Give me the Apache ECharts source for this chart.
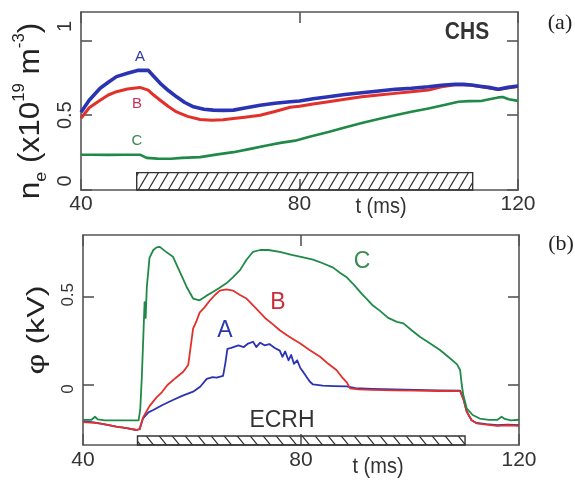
<!DOCTYPE html>
<html>
<head>
<meta charset="utf-8">
<script src="https://cdn.jsdelivr.net/npm/echarts@6/dist/echarts.min.js"></script>
<style>
html,body{margin:0;padding:0;background:#fff;}
#chart{width:575px;height:486px;}
</style>
</head>
<body>
<div id="chart"></div>
<script>
// (a) electron density n_e, 1e19 m^-3, versus t (ms)
const neA = [[40,0.52],[41.5,0.60],[43.5,0.68],[45,0.72],[46.5,0.758],[48.5,0.78],[50.5,0.80],[52.3,0.80],[53.3,0.76],[54.5,0.713],[56,0.665],[57.5,0.623],[59,0.585],[60.6,0.556],[62.5,0.54],[64.2,0.534],[66,0.532],[67.9,0.534],[70,0.548],[72.8,0.567],[75.5,0.58],[78.3,0.59],[80,0.595],[82.5,0.61],[85.3,0.623],[88.3,0.638],[91.4,0.65],[94.5,0.662],[97.5,0.673],[100.5,0.68],[103.6,0.69],[106,0.70],[108.5,0.707],[110,0.706],[111.5,0.702],[113,0.694],[114.6,0.686],[116.4,0.673],[118.2,0.686],[120,0.695]];
const neB = [[40,0.48],[41.5,0.55],[43.5,0.60],[45,0.635],[46.5,0.657],[48.5,0.675],[50.8,0.686],[52.3,0.668],[53.3,0.635],[54.5,0.60],[56,0.558],[57.5,0.522],[59.5,0.492],[61.8,0.471],[64,0.466],[66,0.47],[67.9,0.478],[70,0.487],[72.8,0.50],[75.5,0.525],[78.3,0.553],[80,0.56],[82.5,0.575],[85.3,0.59],[88.3,0.607],[91.4,0.623],[94.5,0.635],[97.5,0.646],[100.5,0.657],[103.6,0.668],[106,0.69],[108.5,0.703],[110,0.704],[111.5,0.70],[113,0.692],[114.6,0.684],[116.4,0.672],[118.2,0.684],[120,0.692]];
const neC = [[40,0.236],[42,0.236],[45,0.235],[48,0.236],[50.8,0.236],[52,0.215],[54,0.21],[56.5,0.209],[58.5,0.215],[61.8,0.22],[65,0.238],[67.9,0.253],[71,0.275],[74,0.298],[76.5,0.315],[79.2,0.33],[82,0.358],[85.3,0.388],[88.3,0.418],[91.4,0.448],[94.5,0.475],[97.5,0.50],[100.5,0.523],[103.6,0.545],[106.5,0.568],[109.1,0.59],[111,0.594],[113.4,0.596],[115,0.608],[116.4,0.619],[117.2,0.622],[118.3,0.607],[120,0.596]];

// (b) plasma potential phi, kV, versus t (ms)
const phiA = [[40,-0.205],[42,-0.212],[43,-0.217],[44.5,-0.226],[46.1,-0.236],[48,-0.245],[49.8,-0.255],[50.4,-0.25],[51,-0.19],[52,-0.155],[52.9,-0.142],[54.5,-0.115],[56.5,-0.085],[58.3,-0.06],[60.2,-0.038],[61.5,-0.01],[62.7,0.035],[63.8,0.045],[64.5,0.042],[65.7,0.052],[66.1,0.12],[66.5,0.205],[67.2,0.21],[68.5,0.224],[69.5,0.215],[70.3,0.235],[71.2,0.245],[71.8,0.215],[72.5,0.24],[73.3,0.225],[74.2,0.232],[75.2,0.21],[76.1,0.195],[76.6,0.16],[77.1,0.19],[77.7,0.14],[78.2,0.17],[78.7,0.12],[79.3,0.14],[79.9,0.095],[80.5,0.07],[81,0.047],[81.6,0.02],[82.2,0.003],[84,-0.003],[86,-0.006],[88.4,-0.008],[90,-0.018],[93,-0.022],[97,-0.025],[101,-0.028],[105,-0.03],[109.2,-0.032],[109.8,-0.08],[110.4,-0.15],[111.3,-0.2],[112.2,-0.215],[114,-0.222],[116,-0.228],[118,-0.225],[120,-0.228]];
const phiB = [[40,-0.21],[42,-0.215],[43,-0.217],[44.5,-0.226],[46.1,-0.236],[48,-0.245],[49.8,-0.255],[50.4,-0.25],[51,-0.185],[52.2,-0.12],[53.5,-0.07],[54.5,-0.04],[55.5,0.0],[57,0.04],[58.4,0.075],[59.3,0.113],[59.6,0.18],[60.2,0.32],[60.8,0.36],[61.4,0.41],[62.3,0.44],[63.3,0.48],[64.2,0.51],[65.1,0.535],[66.3,0.542],[67.5,0.535],[68.8,0.51],[70,0.49],[71.7,0.435],[73.4,0.38],[74.8,0.345],[76.1,0.31],[77.5,0.28],[78.8,0.255],[79.8,0.236],[81.5,0.2],[83.5,0.16],[85,0.12],[86.5,0.085],[87.5,0.045],[88.4,0.015],[89,-0.019],[90.5,-0.025],[93,-0.028],[97,-0.03],[101,-0.032],[105,-0.034],[109.2,-0.035],[109.8,-0.08],[110.4,-0.151],[111.3,-0.2],[112.2,-0.217],[114,-0.225],[116,-0.232],[118,-0.228],[120,-0.232]];
const phiC = [[40,-0.198],[41.5,-0.198],[42.2,-0.18],[42.7,-0.195],[44,-0.2],[46,-0.2],[48,-0.2],[50.2,-0.2],[50.5,-0.14],[50.8,0.05],[51.1,0.3],[51.3,0.47],[51.5,0.38],[51.7,0.55],[52.2,0.72],[52.9,0.765],[53.5,0.78],[54.1,0.783],[55,0.76],[56.5,0.727],[57.5,0.66],[59,0.557],[60.2,0.49],[61.4,0.48],[62.6,0.505],[63.9,0.528],[65,0.55],[66.3,0.576],[67.5,0.61],[68.8,0.651],[70,0.71],[71.2,0.755],[72.5,0.765],[74,0.765],[76.1,0.755],[78.3,0.738],[80.2,0.725],[82.2,0.71],[84,0.69],[85.9,0.665],[87.2,0.635],[88.4,0.61],[89.5,0.575],[90.2,0.55],[91.2,0.515],[92,0.49],[93.2,0.45],[94.5,0.42],[96,0.38],[97.6,0.358],[98.8,0.349],[100.3,0.31],[101.8,0.273],[103.5,0.24],[105.5,0.198],[107,0.16],[108.6,0.118],[109.2,0.085],[109.5,0.0],[109.8,-0.06],[110.4,-0.132],[111.5,-0.17],[112.8,-0.19],[114.5,-0.198],[116,-0.198],[116.8,-0.18],[117.4,-0.192],[118.5,-0.2],[120,-0.197]];

// ECRH heating window (ms) and the vertical extent of its hatched bar
const ecrhSpanA = [50.2, 111.7];
const ecrhSpanB = [50.0, 110.1];
const ecrhBarA = [0, 0.116];
const ecrhBarB = [-0.34, -0.289];

// axis ranges and tick values
const tRange = [40, 120];
const tTicks = [40, 80, 120];
const neRange = [0, 1.19];
const neTicks = [0, 0.5, 1];
const phiRange = [-0.34, 0.85];
const phiTicks = [0, 0.5];

const FONT = '"Liberation Sans", Arial, Helvetica, sans-serif';
const FRAME = '#555';
const TXT = '#333';
const BLUE = '#2a33b2';
const RED = '#e2302b';
const GREEN = '#1f8a47';

// diagonal hatch tile; dir > 0 gives "/" strokes, dir < 0 gives "\"
function hatchTile(w, h, dir) {
  const c = document.createElement('canvas');
  c.width = w; c.height = h;
  const g = c.getContext('2d');
  g.strokeStyle = '#333';
  g.lineWidth = 1.2;
  g.beginPath();
  for (const dx of [-w, 0, w]) {
    if (dir > 0) { g.moveTo(dx, h); g.lineTo(dx + w, 0); }
    else { g.moveTo(dx, 0); g.lineTo(dx + w, h); }
  }
  g.stroke();
  return c;
}

function ecrhSeries(axisIdx, span, bar, tile) {
  return {
    type: 'custom',
    xAxisIndex: axisIdx, yAxisIndex: axisIdx,
    silent: true, z: 1,
    data: [[span[0], span[1], bar[0], bar[1]]],
    encode: { x: [0, 1], y: [2, 3] },
    renderItem(params, api) {
      const p0 = api.coord([api.value(0), api.value(3)]);
      const p1 = api.coord([api.value(1), api.value(2)]);
      return {
        type: 'rect',
        shape: { x: p0[0], y: p0[1], width: p1[0] - p0[0], height: p1[1] - p0[1] },
        style: { fill: { image: tile, repeat: 'repeat' }, stroke: '#333', lineWidth: 1.4 }
      };
    }
  };
}

function line(axisIdx, data, color, width, z) {
  return {
    type: 'line', xAxisIndex: axisIdx, yAxisIndex: axisIdx,
    data: data, showSymbol: false, symbol: 'none', z: z,
    lineStyle: { color: color, width: width, join: 'round' },
    itemStyle: { color: color }
  };
}

const frameLine = { show: true, onZero: false, lineStyle: { color: FRAME, width: 1.6 } };
function tickStyle(values) {
  return { show: true, inside: true, length: 11, customValues: values, lineStyle: { color: FRAME, width: 1.6 } };
}

function xAxes(grid, labelMargin) {
  const common = {
    type: 'value', gridIndex: grid, min: tRange[0], max: tRange[1],
    splitLine: { show: false }, axisLine: frameLine, axisTick: tickStyle(tTicks)
  };
  return [
    Object.assign({}, common, { position: 'bottom',
      axisLabel: { show: true, customValues: tTicks, margin: labelMargin, fontSize: 21, color: TXT, fontFamily: FONT } }),
    Object.assign({}, common, { position: 'top', axisLabel: { show: false } })
  ];
}

// rotated y tick labels; shifts nudge single labels along their reading direction
function yAxes(grid, range, ticks, fontSize, margin, shifts) {
  const common = {
    type: 'value', gridIndex: grid, min: range[0], max: range[1],
    splitLine: { show: false }, axisLine: frameLine, axisTick: tickStyle(ticks)
  };
  const rich = {};
  Object.keys(shifts).forEach((k, i) => {
    rich['s' + i] = { padding: [0, 0, 0, shifts[k]], fontSize: fontSize, color: TXT, fontFamily: FONT };
  });
  return [
    Object.assign({}, common, { position: 'left',
      axisLabel: { show: true, customValues: ticks, rotate: 90, margin: margin, fontSize: fontSize, color: TXT, fontFamily: FONT,
        rich: rich,
        formatter: v => {
          const s = String(+(+v).toFixed(2));
          const keys = Object.keys(shifts);
          const i = keys.indexOf(s);
          return i >= 0 ? '{s' + i + '|' + s + '}' : s;
        } } }),
    Object.assign({}, common, { position: 'right', axisLabel: { show: false } })
  ];
}

function txt(x, y, text, font, color, opts) {
  return Object.assign({
    type: 'text', x: x, y: y, z: 100,
    style: {
      text: text, fill: color, font: font,
      align: 'center', verticalAlign: 'middle', textAlign: 'center', textVerticalAlign: 'middle'
    }
  }, opts || {});
}

const chart = echarts.init(document.getElementById('chart'), null, { renderer: 'canvas' });

const tileA = hatchTile(10, 17, 1);
const tileB = hatchTile(13, 16, -1);

chart.setOption({
  animation: false,
  backgroundColor: '#fff',
  grid: [
    { left: 81, top: 12, width: 437, height: 178, containLabel: false },
    { left: 83, top: 235, width: 436, height: 210, containLabel: false }
  ],
  xAxis: [].concat(xAxes(0, 4), xAxes(1, 5)),
  yAxis: [].concat(
    yAxes(0, neRange, neTicks, 20, 6, { '1': 28, '0': 18 }),
    yAxes(1, phiRange, phiTicks, 17, 6, { '0': -8, '0.5': 4 })
  ),
  series: [
    ecrhSeries(0, ecrhSpanA, ecrhBarA, tileA),
    line(0, neC, GREEN, 2.6, 3),
    line(0, neB, RED, 3, 4),
    line(0, neA, BLUE, 3.6, 5),
    ecrhSeries(2, ecrhSpanB, ecrhBarB, tileB),
    line(2, phiA, BLUE, 1.8, 3),
    line(2, phiB, RED, 1.8, 4),
    line(2, phiC, GREEN, 1.8, 5)
  ],
  graphic: [
    // axis titles
    {
      type: 'text', x: 31, y: 111, rotation: Math.PI / 2, scaleX: 1.05, z: 100,
      style: {
        text: '{b|n}{s|e}{b| (x10}{p|19}{b| m}{p|-3}{b|)}',
        align: 'center', verticalAlign: 'middle', textAlign: 'center', textVerticalAlign: 'middle',
        fill: '#222',
        rich: {
          b: { fontSize: 30, fontFamily: FONT, lineHeight: 38, fill: '#222', color: '#222' },
          p: { fontSize: 16, fontFamily: FONT, lineHeight: 18, verticalAlign: 'top', fill: '#222', color: '#222' },
          s: { fontSize: 17, fontFamily: FONT, lineHeight: 14, verticalAlign: 'bottom', fill: '#222', color: '#222' }
        }
      }
    },
    txt(38, 330, 'φ (kV)', '23px ' + FONT, '#222', { rotation: Math.PI / 2, scaleX: 1.4 }),
    txt(381, 207, 't (ms)', '20px ' + FONT, TXT, { scaleY: 1.1 }),
    txt(378, 467, 't (ms)', '20px ' + FONT, TXT, { scaleY: 1.1 }),
    // annotations
    txt(467, 33, 'CHS', 'bold 21px ' + FONT, '#333', { scaleY: 1.1 }),
    txt(560, 23, '(a)', '22px "Liberation Serif", "Times New Roman", serif', '#222'),
    txt(561, 244, '(b)', '22px "Liberation Serif", "Times New Roman", serif', '#222'),
    txt(282, 421, 'ECRH', '23px ' + FONT, '#333'),
    // curve labels, panel (a)
    txt(140, 57, 'A', '15px ' + FONT, '#2c3a9c'),
    txt(137, 104, 'B', '15px ' + FONT, '#c8325a'),
    txt(137, 141, 'C', '15px ' + FONT, '#3a8a50'),
    // curve labels, panel (b)
    txt(225, 331, 'A', '23px ' + FONT, '#2c3aa8'),
    txt(278, 303, 'B', '23px ' + FONT, '#c82c38'),
    txt(362, 262, 'C', '23px ' + FONT, '#3a8a50')
  ]
});
</script>
</body>
</html>
